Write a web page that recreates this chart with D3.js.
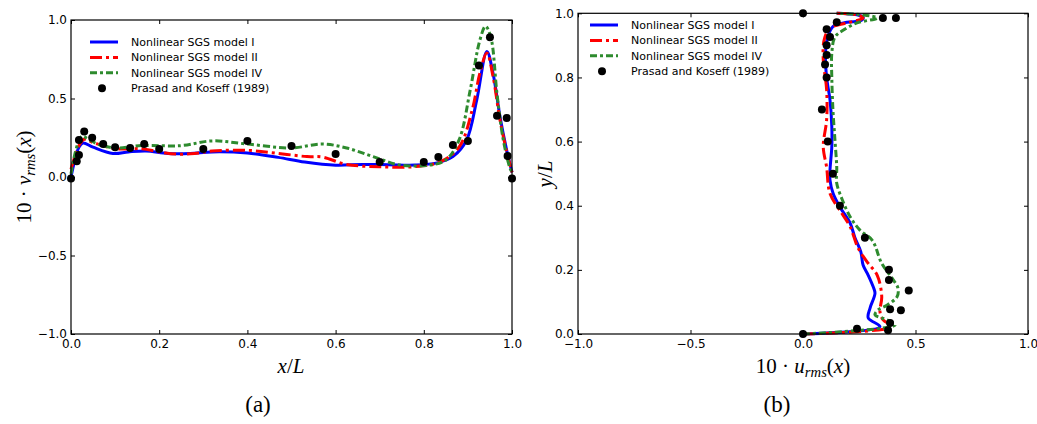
<!DOCTYPE html>
<html><head><meta charset="utf-8">
<script src="https://cdn.jsdelivr.net/npm/d3@7"></script>
<style>body{margin:0;background:#fff}svg{display:block}</style>
</head><body>
<svg id="c" width="1037" height="424"></svg>
<script>
// ---------- Panel (a): v_rms along x ----------
const aBlueX = [0,0.008,0.018,0.027,0.05,0.095,0.13,0.17,0.22,0.27,0.32,0.4,0.47,0.53,0.6,0.66,0.72,0.78,0.83,0.866,0.897,0.92,0.943,0.957,0.973,0.988,1.0];
const aBlueV = [0.0,0.1,0.19,0.217,0.19,0.15,0.16,0.166,0.15,0.15,0.16,0.153,0.125,0.095,0.075,0.08,0.078,0.076,0.09,0.13,0.236,0.49,0.8,0.66,0.38,0.17,0.03];
const aRedX = [0,0.01,0.02,0.03,0.05,0.1,0.16,0.2,0.24,0.28,0.32,0.4,0.47,0.535,0.57,0.625,0.7,0.775,0.837,0.88,0.91,0.927,0.943,0.957,0.973,0.988,1.0];
const aRedV = [0.05,0.14,0.21,0.24,0.22,0.18,0.18,0.16,0.146,0.15,0.165,0.17,0.15,0.13,0.127,0.08,0.065,0.065,0.096,0.19,0.43,0.66,0.79,0.64,0.36,0.16,0.03];
const aGreenX = [0,0.01,0.018,0.025,0.04,0.06,0.1,0.16,0.25,0.32,0.4,0.5,0.57,0.625,0.685,0.746,0.814,0.85,0.88,0.905,0.927,0.94,0.952,0.966,0.98,0.995,1.0];
const aGreenV = [0.02,0.16,0.23,0.26,0.24,0.21,0.185,0.2,0.2,0.23,0.21,0.185,0.21,0.185,0.13,0.076,0.076,0.108,0.236,0.55,0.87,0.96,0.89,0.53,0.24,0.06,0.03];
const aExpX = [0,0.013,0.018,0.018,0.03,0.048,0.073,0.1,0.134,0.166,0.2,0.3,0.4,0.5,0.6,0.7,0.8,0.833,0.866,0.9,0.925,0.95,0.966,0.988,0.99,1.0];
const aExpV = [-0.01,0.1,0.14,0.235,0.29,0.25,0.21,0.19,0.185,0.21,0.178,0.178,0.23,0.197,0.147,0.095,0.095,0.127,0.204,0.23,0.71,0.89,0.39,0.376,0.134,-0.01];

// ---------- Panel (b): u_rms along y ----------
const bBlueY = [0,0.023,0.05,0.081,0.127,0.147,0.183,0.215,0.256,0.302,0.345,0.396,0.438,0.48,0.511,0.584,0.646,0.73,0.8,0.875,0.926,0.96,0.972,0.978,0.988,0.995,1.0];
const bBlueU = [0,0.342,0.29,0.298,0.32,0.312,0.29,0.267,0.257,0.23,0.21,0.164,0.134,0.12,0.12,0.128,0.128,0.12,0.105,0.1,0.11,0.135,0.195,0.26,0.267,0.24,0.15];
const bRedY = [0,0.023,0.044,0.07,0.116,0.183,0.22,0.268,0.334,0.376,0.438,0.52,0.584,0.668,0.762,0.855,0.917,0.954,0.97,0.985,0.995,1.0];
const bRedU = [0,0.395,0.356,0.342,0.35,0.33,0.29,0.245,0.21,0.173,0.12,0.105,0.09,0.105,0.105,0.09,0.094,0.12,0.195,0.267,0.24,0.15];
const bGreenY = [0,0.028,0.044,0.06,0.075,0.09,0.116,0.143,0.175,0.22,0.293,0.324,0.365,0.418,0.47,0.52,0.605,0.7,0.8,0.875,0.926,0.947,0.97,0.985,0.995,1.0];
const bGreenU = [0,0.41,0.373,0.32,0.333,0.373,0.418,0.422,0.395,0.35,0.307,0.253,0.21,0.175,0.15,0.15,0.142,0.133,0.128,0.128,0.142,0.178,0.24,0.33,0.27,0.15];
const bExpU = [0,0.15,0.355,0.413,0.105,0.12,0.105,0.105,0.098,0.105,0.084,0.11,0.133,0.164,0.275,0.382,0.382,0.47,0.387,0.435,0.387,0.378,0.24,0];
const bExpY = [1.0,0.972,0.985,0.985,0.95,0.926,0.9,0.87,0.84,0.8,0.7,0.6,0.5,0.4,0.3,0.2,0.168,0.136,0.077,0.074,0.034,0.012,0.016,0];

// ---------- Ticks & legend ----------
const aXTicks = [0,0.2,0.4,0.6,0.8,1.0];
const aYTicks = [-1.0,-0.5,0.0,0.5,1.0];
const bXTicks = [-1.0,-0.5,0.0,0.5,1.0];
const bYTicks = [0,0.2,0.4,0.6,0.8,1.0];
const legendLabels = ["Nonlinear SGS model I","Nonlinear SGS model II","Nonlinear SGS model IV","Prasad and Koseff (1989)"];

const styles = [
  {color:"#0000ff", dash:null, w:3},
  {color:"#ff0000", dash:"12,4,3,4", w:3},
  {color:"#2e8b2e", dash:"7,3,3,3", w:3}
];

const svg = d3.select("#c");
const fmt = d => d3.format(".1f")(d).replace("-", "\u2212");

function panel(box, xDom, yDom, xTicks, yTicks, series, exp, legendPos, mkLine){
  const x = d3.scaleLinear().domain(xDom).range([box.l, box.r]);
  const y = d3.scaleLinear().domain(yDom).range([box.b, box.t]);
  const g = svg.append("g");
  const axB = d3.axisBottom(x).tickValues(xTicks).tickSize(-4).tickPadding(5).tickFormat(fmt);
  const axL = d3.axisLeft(y).tickValues(yTicks).tickSize(-4).tickPadding(4).tickFormat(fmt);
  const axT = d3.axisTop(x).tickValues(xTicks).tickSize(-4).tickFormat("");
  const axR = d3.axisRight(y).tickValues(yTicks).tickSize(-4).tickFormat("");
  [[axB,`translate(0,${box.b})`],[axL,`translate(${box.l},0)`],[axT,`translate(0,${box.t})`],[axR,`translate(${box.r},0)`]].forEach(([a,t])=>{
    const s = g.append("g").attr("transform",t).call(a);
    s.select(".domain").remove();
    s.selectAll("line").attr("stroke","#000").attr("stroke-width",1);
    s.selectAll("text").attr("font-family","DejaVu Sans").attr("font-size",12).attr("fill","#000");
  });
  series.forEach((sr,i)=>{
    const st = styles[i];
    const pts = sr[0].map((v,k)=>[sr[0][k], sr[1][k]]);
    g.append("path").datum(pts)
      .attr("d", d3.line().x(d=>x(d[0])).y(d=>y(d[1])).curve(mkLine))
      .attr("fill","none").attr("stroke",st.color).attr("stroke-width",st.w)
      .attr("stroke-dasharray",st.dash).attr("stroke-linejoin","round");
  });
  g.selectAll("circle.e").data(exp[0].map((v,k)=>[exp[0][k],exp[1][k]])).enter()
    .append("circle").attr("cx",d=>x(d[0])).attr("cy",d=>y(d[1])).attr("r",4).attr("fill","#000");
  g.append("rect").attr("x",box.l).attr("y",box.t).attr("width",box.r-box.l).attr("height",box.b-box.t)
    .attr("fill","none").attr("stroke","#000").attr("stroke-width",1.2);
  const lg = g.append("g").attr("transform",`translate(${legendPos[0]},${legendPos[1]})`);
  legendLabels.forEach((lab,i)=>{
    const yy = i*15.4;
    if(i<3){
      const st = styles[i];
      lg.append("line").attr("x1",0).attr("x2",28).attr("y1",yy).attr("y2",yy)
        .attr("stroke",st.color).attr("stroke-width",st.w).attr("stroke-dasharray",st.dash);
    } else {
      lg.append("circle").attr("cx",12).attr("cy",yy).attr("r",4).attr("fill","#000");
    }
    lg.append("text").attr("x",41).attr("y",yy).attr("dy","0.35em")
      .attr("font-family","DejaVu Sans").attr("font-size",11).text(lab);
  });
  return {x,y};
}

const boxA = {l:71,r:512,t:20,b:334};
panel(boxA,[0,1],[-1,1],aXTicks,aYTicks,
  [[aBlueX,aBlueV],[aRedX,aRedV],[aGreenX,aGreenV]],[aExpX,aExpV],[90,42],d3.curveCatmullRom);
const boxB = {l:578,r:1028,t:13.3,b:334};
panel(boxB,[-1,1],[0,1],bXTicks,bYTicks,
  [[bBlueU,bBlueY],[bRedU,bRedY],[bGreenU,bGreenY]],[bExpU,bExpY],[590,25],d3.curveCatmullRom);

function mathText(sel, parts, size){
  const t = sel.attr("font-family","Liberation Serif").attr("font-size",size).attr("text-anchor","middle");
  parts.forEach(p=>{
    const ts = t.append("tspan").text(p.t);
    if(p.i) ts.attr("font-style","italic");
    if(p.sub) ts.attr("font-size",size*0.7).attr("baseline-shift","-25%");
  });
  return t;
}
mathText(svg.append("text").attr("x",291).attr("y",373),[{t:"x",i:1},{t:"/"},{t:"L",i:1}],21);
mathText(svg.append("text").attr("x",803).attr("y",373),[{t:"10 · "},{t:"u",i:1},{t:"rms",i:1,sub:1},{t:"("},{t:"x",i:1},{t:")"}],21);
mathText(svg.append("text").attr("transform","translate(31,177) rotate(-90)"),[{t:"10 · "},{t:"v",i:1},{t:"rms",i:1,sub:1},{t:"("},{t:"x",i:1},{t:")"}],21);
mathText(svg.append("text").attr("transform","translate(552,174) rotate(-90)"),[{t:"y",i:1},{t:"/"},{t:"L",i:1}],21);

svg.append("text").attr("x",258).attr("y",412).attr("text-anchor","middle")
  .attr("font-family","Liberation Serif").attr("font-size",23).text("(a)");
svg.append("text").attr("x",777).attr("y",412).attr("text-anchor","middle")
  .attr("font-family","Liberation Serif").attr("font-size",23).text("(b)");
</script>
</body></html>
